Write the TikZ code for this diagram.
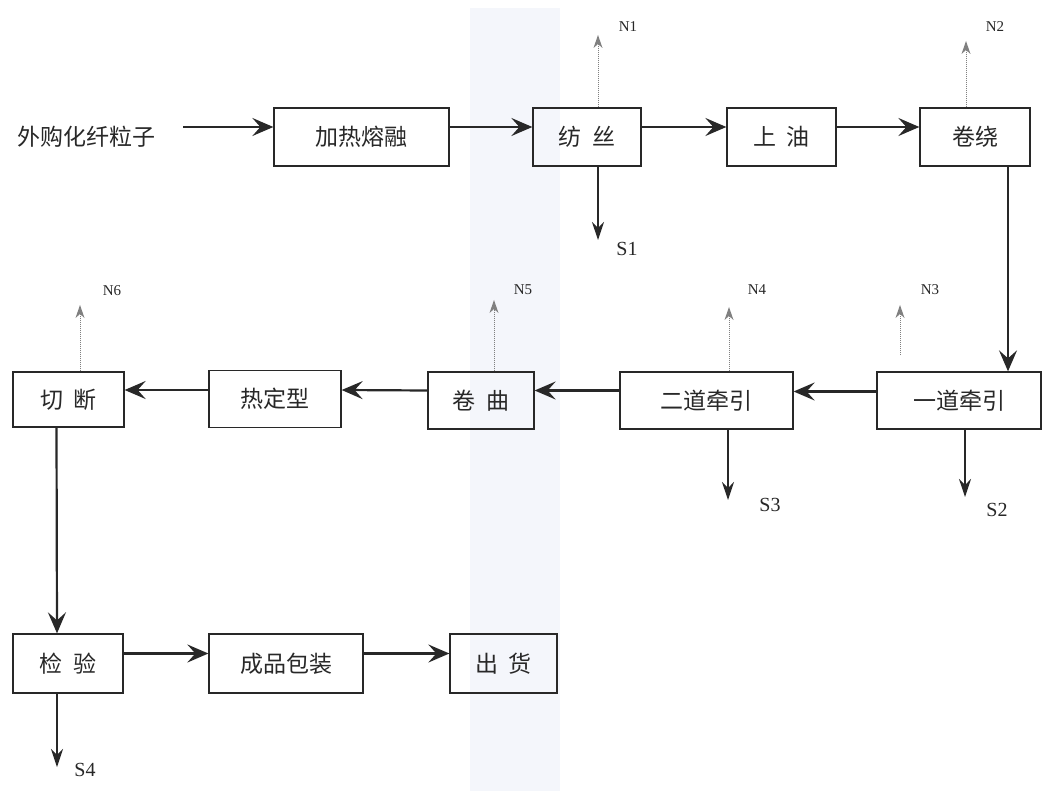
\documentclass[tikz,border=0pt]{standalone}
\usepackage{fontspec}
\setmainfont{Liberation Serif}
\newfontfamily\cjk{Noto Sans CJK SC}
\usetikzlibrary{arrows.meta}
\definecolor{inkc}{RGB}{40,40,40}
\definecolor{bandc}{RGB}{244,246,251}
\tikzset{
  proc/.style={draw=inkc, line width=1.3pt, rectangle, inner sep=0pt,
    minimum height=58pt, font=\cjk\fontsize{23}{23}\selectfont, text=inkc},
  flow/.style={draw=inkc, line width=2.2pt,
    -{Stealth[length=21pt,width=18pt,inset=8pt]}},
  solid arrow/.style={draw=inkc, line width=1.2pt,
    -{Stealth[length=18pt,width=12pt,inset=6pt]}},
  gas arrow/.style={draw=gray, line width=1pt, densely dotted,
    -{Stealth[length=13pt,width=9pt,inset=4pt,line width=0pt]}},
  nlab/.style={font=\fontsize{15}{15}\selectfont, text=inkc, inner sep=0pt},
  slab/.style={font=\fontsize{20}{20}\selectfont, text=inkc, inner sep=0pt}
}
\begin{document}
\begin{tikzpicture}[x=1pt,y=-1pt]
\useasboundingbox (0,0) rectangle (1043,791);
\fill[white] (0,0) rectangle (1043,791);
\fill[bandc] (470,8) rectangle (560,791);

% row 1
\node[font=\cjk\fontsize{23}{23}\selectfont, text=inkc, inner sep=0pt] (src) at (86,137) {外购化纤粒子};
\node[proc, minimum width=175pt] (heat) at (361.5,137) {加热熔融};
\node[proc, minimum width=108pt] (spin) at (587,137) {纺\hspace{0.45em}丝};
\node[proc, minimum width=109pt] (oil) at (781.5,137) {上\hspace{0.45em}油};
\node[proc, minimum width=110pt] (wind) at (975,137) {卷绕};

% row 2
\node[proc, minimum width=164pt, minimum height=57pt] (draw1) at (959,400.5) {一道牵引};
\node[proc, minimum width=173pt, minimum height=57pt] (draw2) at (706.5,400.5) {二道牵引};
\node[proc, minimum width=106pt, minimum height=57pt] (crimp) at (481,400.5) {卷\hspace{0.45em}曲};
\node[proc, minimum width=132pt, minimum height=57pt] (heatset) at (275,399) {热定型};
\node[proc, minimum width=111pt, minimum height=55pt] (cut) at (68.5,399.5) {切\hspace{0.45em}断};

% row 3
\node[proc, minimum width=110pt, minimum height=59pt] (insp) at (68,663.5) {检\hspace{0.45em}验};
\node[proc, minimum width=154pt, minimum height=59pt] (pack) at (286,663.5) {成品包装};
\node[proc, minimum width=107pt, minimum height=59pt] (ship) at (503.5,663.5) {出\hspace{0.45em}货};

% labels
\node[nlab] (n1) at (628,27) {N1};
\node[nlab] (n2) at (995,27) {N2};
\node[nlab] (n3) at (930,290) {N3};
\node[nlab] (n4) at (757,290) {N4};
\node[nlab] (n5) at (523,290) {N5};
\node[nlab] (n6) at (112,291) {N6};
\node[slab] (s1) at (627,249) {S1};
\node[slab] (s2) at (997,510) {S2};
\node[slab] (s3) at (770,505) {S3};
\node[slab] (s4) at (85,770) {S4};

% free ends
\coordinate (n1e) at (598,35);
\coordinate (n2e) at (966,41);
\coordinate (n3s) at (900,355);
\coordinate (n3e) at (900,305);
\coordinate (n4e) at (729,307);
\coordinate (n5e) at (494,300);
\coordinate (n6e) at (80,305);
\coordinate (s1e) at (598,240);
\coordinate (s2e) at (965,497);
\coordinate (s3e) at (728,500);
\coordinate (s4e) at (57,767);

% main flow
\draw[flow] ([xshift=28pt,yshift=10pt]src.east) -- ([yshift=10pt]heat.west);
\draw[flow] ([yshift=10pt]heat.east) -- ([yshift=10pt]spin.west);
\draw[flow] ([yshift=10pt]spin.east) -- ([yshift=10pt]oil.west);
\draw[flow] ([yshift=10pt]oil.east) -- ([yshift=10pt]wind.west);
\draw[flow] ([xshift=33pt]wind.south) -- ([xshift=49pt]draw1.north);
\draw[flow] ([yshift=9pt]draw1.west) -- ([yshift=9pt]draw2.east);
\draw[flow] ([yshift=10pt]draw2.west) -- ([yshift=10pt]crimp.east);
\draw[flow] ([yshift=10pt]crimp.west) -- ([yshift=9pt]heatset.east);
\draw[flow] ([yshift=9pt]heatset.west) -- ([yshift=9.5pt]cut.west -| cut.east);
\draw[flow] ([xshift=-12pt]cut.south) -- ([xshift=-11pt]insp.north);
\draw[flow] ([yshift=10pt]insp.east) -- ([yshift=10pt]pack.west);
\draw[flow] ([yshift=10pt]pack.east) -- ([yshift=10pt]ship.west);

% emissions
\draw[gas arrow] (spin.north -| n1e) -- (n1e);
\draw[gas arrow] (wind.north -| n2e) -- (n2e);
\draw[gas arrow] (n3s) -- (n3e);
\draw[gas arrow] (draw2.north -| n4e) -- (n4e);
\draw[gas arrow] (crimp.north -| n5e) -- (n5e);
\draw[gas arrow] (cut.north -| n6e) -- (n6e);

% solid waste
\draw[solid arrow] (spin.south -| s1e) -- (s1e);
\draw[solid arrow] (draw1.south -| s2e) -- (s2e);
\draw[solid arrow] (draw2.south -| s3e) -- (s3e);
\draw[solid arrow] (insp.south -| s4e) -- (s4e);
\end{tikzpicture}
\end{document}
